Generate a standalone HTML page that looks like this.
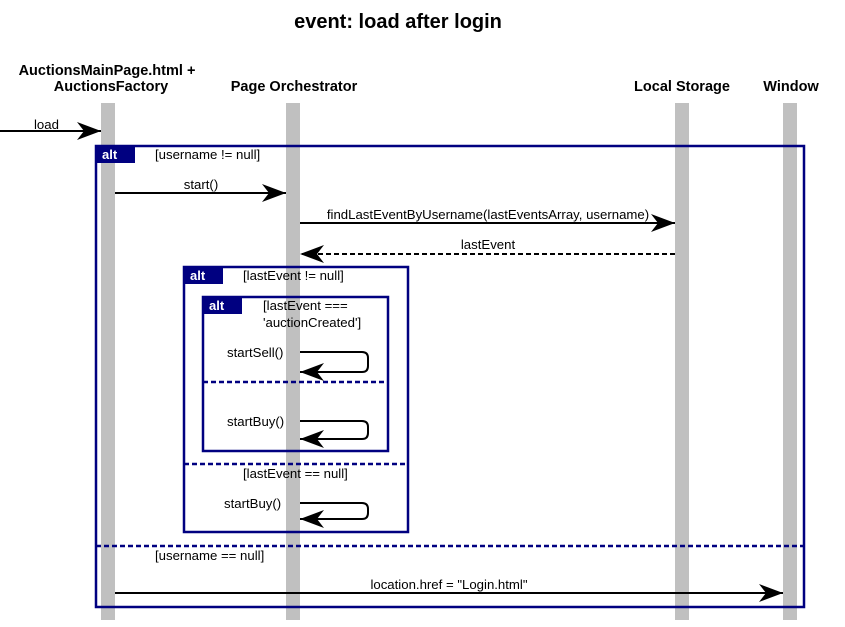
<!DOCTYPE html>
<html><head><style>body{margin:0;background:#fff}svg{display:block}</style></head><body>
<svg width="845" height="627" viewBox="0 0 845 627" xmlns="http://www.w3.org/2000/svg" font-family="Liberation Sans, sans-serif">
<defs>
<marker id="a" markerWidth="26" markerHeight="20" refX="24" refY="10" orient="auto" markerUnits="userSpaceOnUse">
<path d="M0,1 L24,10 L0,19 L7,10 Z" fill="#000"/></marker>
</defs>
<text x="398" y="28" font-size="20" font-weight="bold" text-anchor="middle">event: load after login</text>
<g font-size="14.5" font-weight="bold" text-anchor="middle">
<text x="107" y="75">AuctionsMainPage.html +</text>
<text x="111" y="91">AuctionsFactory</text>
<text x="294" y="91">Page Orchestrator</text>
<text x="682" y="91">Local Storage</text>
<text x="791" y="91">Window</text>
</g>
<g fill="#c0c0c0">
<rect x="101" y="103" width="14" height="517"/>
<rect x="286" y="103" width="14" height="517"/>
<rect x="675" y="103" width="14" height="517"/>
<rect x="783" y="103" width="14" height="517"/>
</g>
<g font-size="13.2">
<line x1="0" y1="131" x2="101" y2="131" stroke="#000" stroke-width="2" marker-end="url(#a)"/>
<text x="34" y="129">load</text>
<line x1="115" y1="193" x2="286" y2="193" stroke="#000" stroke-width="2" marker-end="url(#a)"/>
<text x="201" y="189" text-anchor="middle">start()</text>
<line x1="300" y1="223" x2="675" y2="223" stroke="#000" stroke-width="2" marker-end="url(#a)"/>
<text x="488" y="219" text-anchor="middle">findLastEventByUsername(lastEventsArray, username)</text>
<line x1="675" y1="254" x2="300" y2="254" stroke="#000" stroke-width="2" stroke-dasharray="5,3" marker-end="url(#a)"/>
<text x="488" y="249" text-anchor="middle">lastEvent</text>
<path d="M300,352 H362 Q368,352 368,358 V366 Q368,372 362,372 H300" fill="none" stroke="#000" stroke-width="2" marker-end="url(#a)"/>
<text x="227" y="357">startSell()</text>
<path d="M300,421 H362 Q368,421 368,427 V433 Q368,439 362,439 H300" fill="none" stroke="#000" stroke-width="2" marker-end="url(#a)"/>
<text x="227" y="426">startBuy()</text>
<path d="M300,503 H362 Q368,503 368,509 V513 Q368,519 362,519 H300" fill="none" stroke="#000" stroke-width="2" marker-end="url(#a)"/>
<text x="224" y="508">startBuy()</text>
<line x1="115" y1="593" x2="783" y2="593" stroke="#000" stroke-width="2" marker-end="url(#a)"/>
<text x="449" y="589" text-anchor="middle">location.href = "Login.html"</text>
</g>
<g fill="none" stroke="#000080" stroke-width="2.5">
<rect x="96" y="146" width="708" height="461"/>
<rect x="184" y="267" width="224" height="265"/>
<rect x="203" y="297" width="185" height="154"/>
<line x1="96" y1="546" x2="804" y2="546" stroke-dasharray="5,3"/>
<line x1="184" y1="464" x2="408" y2="464" stroke-dasharray="5,3"/>
<line x1="203" y1="382" x2="388" y2="382" stroke-dasharray="5,3"/>
</g>
<g fill="#000080">
<rect x="96" y="146" width="39" height="17"/>
<rect x="184" y="267" width="39" height="17"/>
<rect x="203" y="297" width="39" height="17"/>
</g>
<g fill="#fff" font-size="13" font-weight="bold">
<text x="102" y="159">alt</text>
<text x="190" y="280">alt</text>
<text x="209" y="310">alt</text>
</g>
<g font-size="13.2">
<text x="155" y="159">[username != null]</text>
<text x="243" y="280">[lastEvent != null]</text>
<text x="263" y="310">[lastEvent ===</text>
<text x="263" y="327">'auctionCreated']</text>
<text x="243" y="478">[lastEvent == null]</text>
<text x="155" y="560">[username == null]</text>
</g>
</svg>
</body></html>
